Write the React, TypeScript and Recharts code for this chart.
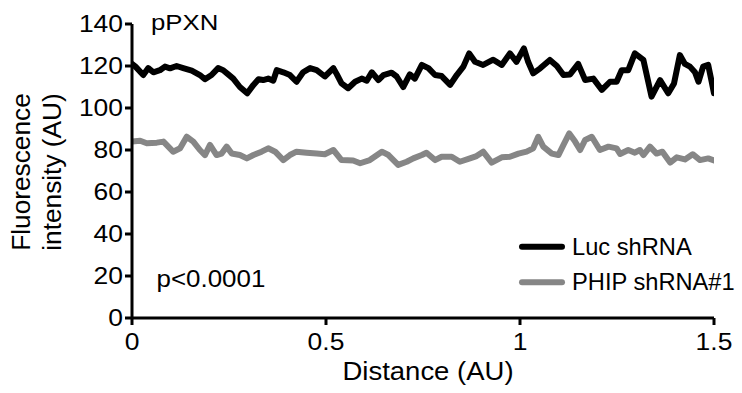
import { Line, LineChart, XAxis, YAxis } from "recharts";

const FONT = "'Liberation Sans', Arial, Helvetica, sans-serif";

// Luc shRNA trace (black)
const lucDistance = [
  0, 0.009, 0.029, 0.042, 0.055, 0.072, 0.085, 0.098, 0.115, 0.132,
  0.154, 0.175, 0.188, 0.205, 0.222, 0.235, 0.248, 0.261, 0.278, 0.297,
  0.313, 0.326, 0.338, 0.351, 0.364, 0.373, 0.39, 0.407, 0.424, 0.441,
  0.459, 0.476, 0.497, 0.519, 0.528, 0.54, 0.557, 0.575, 0.592, 0.605,
  0.618, 0.635, 0.648, 0.669, 0.682, 0.699, 0.716, 0.729, 0.747, 0.764,
  0.781, 0.798, 0.82, 0.837, 0.854, 0.869, 0.884, 0.905, 0.931, 0.953,
  0.974, 0.991, 1.01, 1.021, 1.034, 1.052, 1.077, 1.095, 1.112, 1.129,
  1.15, 1.168, 1.189, 1.211, 1.232, 1.249, 1.262, 1.279, 1.296, 1.318,
  1.339, 1.361, 1.382, 1.397, 1.412, 1.425, 1.438, 1.451, 1.46, 1.472,
  1.485, 1.494, 1.5,
];
const lucIntensity = [
  121, 119.7, 115.7, 119, 117, 118, 119.7, 118.9, 120, 119,
  117.8, 115.7, 113.7, 115.7, 119, 118, 116, 114, 110, 107,
  111, 113.7, 113.3, 114, 113, 118, 117, 115.7, 112.5, 117,
  119, 118, 115, 119, 116, 111.7, 109.4, 112.5, 114, 113,
  117, 113.3, 115.7, 116.8, 115, 110, 116, 114, 120.5, 119,
  115.7, 115.2, 111, 115.7, 119.7, 126, 122, 120.5, 123, 120.5,
  126, 122, 128.4, 122, 116.5, 118.9, 122.9, 120, 115.7, 116,
  121, 113.3, 114, 108.6, 112.5, 112.5, 118, 118, 126, 122.9,
  105.4, 113.3, 107, 111.7, 125.2, 121, 119.7, 117, 112.5, 119.7,
  120.5, 112.5, 107,
];

// PHIP shRNA#1 trace (grey)
const phipDistance = [
  0, 0.021, 0.038, 0.064, 0.081, 0.106, 0.124, 0.141, 0.158, 0.175,
  0.188, 0.201, 0.218, 0.231, 0.244, 0.257, 0.278, 0.296, 0.313, 0.334,
  0.351, 0.369, 0.39, 0.407, 0.424, 0.45, 0.476, 0.497, 0.519, 0.54,
  0.57, 0.588, 0.613, 0.644, 0.661, 0.686, 0.708, 0.725, 0.747, 0.759,
  0.781, 0.798, 0.824, 0.845, 0.871, 0.888, 0.905, 0.927, 0.953, 0.974,
  0.996, 1.017, 1.034, 1.047, 1.06, 1.082, 1.099, 1.112, 1.127, 1.142,
  1.155, 1.168, 1.185, 1.206, 1.228, 1.249, 1.258, 1.279, 1.296, 1.309,
  1.318, 1.335, 1.352, 1.367, 1.387, 1.404, 1.425, 1.445, 1.464, 1.485,
  1.5,
];
const phipIntensity = [
  84, 84.4, 83.2, 83.5, 84, 79.2, 80.8, 86.3, 84, 80,
  77.6, 82.4, 77.6, 78.3, 81.6, 78.3, 77.6, 76, 77.6, 79.2,
  80.8, 79.2, 75.2, 77.6, 79.2, 78.7, 78.3, 78, 80, 75.2,
  75, 73.7, 75.2, 79.2, 77.6, 72.9, 74.4, 76, 77.6, 78.7,
  75.2, 76.8, 76.8, 74.4, 76, 77.1, 79.2, 74, 76.5, 76.8,
  78.3, 79.2, 80.8, 86.3, 81.6, 78.3, 77.6, 82.4, 87.9, 84,
  80, 84.8, 86.3, 80, 81.6, 80.8, 78.1, 80, 78.7, 80,
  77.6, 81.6, 78.3, 79.2, 74, 76.5, 75.5, 78, 75.2, 76,
  75,
];

const xTicks = [0, 0.5, 1, 1.5];
const yTicks = [0, 20, 40, 60, 80, 100, 120, 140];

const series = [
  { name: "Luc shRNA", color: "#000000", data: lucDistance.map((x, i) => ({ x, y: lucIntensity[i] })) },
  { name: "PHIP shRNA#1", color: "#868686", data: phipDistance.map((x, i) => ({ x, y: phipIntensity[i] })) },
];

const XTick = ({ x, y, payload }: any) => (
  <g transform={`translate(${x},${y})`}>
    <text textAnchor="middle" dy="0.71em" fontSize={23} fontFamily={FONT} fill="#000" transform="scale(1.15,1)">
      {payload.value}
    </text>
  </g>
);

const YTick = ({ x, y, payload }: any) => (
  <g transform={`translate(${x},${y})`}>
    <text textAnchor="end" dy="0.355em" fontSize={23} fontFamily={FONT} fill="#000" transform="scale(1.15,1)">
      {payload.value}
    </text>
  </g>
);

export default function App() {
  return (
    <div style={{ position: "absolute", left: 0, top: 0, width: 742, height: 393, background: "#fff" }}>
      <LineChart width={742} height={393} margin={{ top: 24, right: 28, bottom: 35, left: 0 }}>
        <XAxis
          type="number"
          dataKey="x"
          domain={[0, 1.5]}
          ticks={xTicks}
          height={40}
          tickSize={7}
          tickMargin={9}
          tick={<XTick />}
          axisLine={{ stroke: "#000", strokeWidth: 3 }}
          tickLine={{ stroke: "#000", strokeWidth: 3 }}
          allowDataOverflow
        />
        <YAxis
          type="number"
          dataKey="y"
          domain={[0, 140]}
          ticks={yTicks}
          width={132}
          tickSize={7}
          tickMargin={2}
          tick={<YTick />}
          axisLine={{ stroke: "#000", strokeWidth: 3 }}
          tickLine={{ stroke: "#000", strokeWidth: 3 }}
        />
        {series.map((s) => (
          <Line
            key={s.name}
            data={s.data}
            dataKey="y"
            name={s.name}
            type="linear"
            stroke={s.color}
            strokeWidth={6}
            strokeLinejoin="round"
            strokeLinecap="round"
            dot={false}
            isAnimationActive={false}
          />
        ))}
      </LineChart>

      {/* titles, annotations and legend */}
      <svg width={742} height={393} style={{ position: "absolute", left: 0, top: 0, pointerEvents: "none" }}>
        <g fontFamily={FONT} fill="#000">
          <text transform="translate(30,172) rotate(-90) scale(1.05,1)" textAnchor="middle" fontSize={25}>
            Fluorescence
          </text>
          <text transform="translate(61,172) rotate(-90) scale(1.05,1)" textAnchor="middle" fontSize={25}>
            intensity (AU)
          </text>
          <text transform="translate(428,380) scale(1.1,1)" textAnchor="middle" fontSize={25}>
            Distance (AU)
          </text>
          <text transform="translate(151,29.5) scale(1.12,1)" fontSize={23}>
            pPXN
          </text>
          <text transform="translate(156.5,287) scale(1.08,1)" fontSize={24}>
            p&lt;0.0001
          </text>
          {series.map((s, i) => (
            <g key={s.name} transform={`translate(0,${i * 35.6})`}>
              <line x1={522} x2={562} y1={246.7} y2={246.7} stroke={s.color} strokeWidth={6} strokeLinecap="round" />
              <text transform="translate(572,254.5) scale(1.03,1)" fontSize={23}>
                {s.name}
              </text>
            </g>
          ))}
        </g>
      </svg>
    </div>
  );
}
